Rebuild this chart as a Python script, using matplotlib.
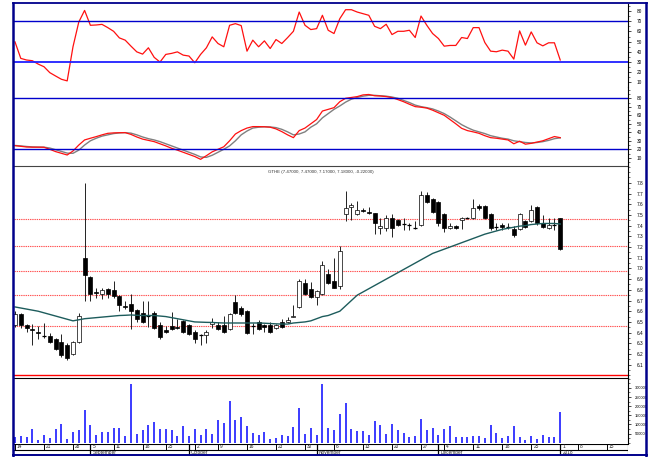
import matplotlib
matplotlib.use('Agg')
import matplotlib.pyplot as plt
from matplotlib.patches import Rectangle
from matplotlib.ticker import MultipleLocator, FixedLocator

plt.rcParams['font.family'] = ['Liberation Sans', 'DejaVu Sans']

# ---------------- data ----------------
opens = [6.47, 6.57, 6.47, 6.43, 6.41, 6.37, 6.37, 6.34, 6.31, 6.28,
         6.20, 6.31, 7.10, 6.92, 6.78, 6.76, 6.81, 6.80, 6.74, 6.65,
         6.67, 6.61, 6.58, 6.56, 6.58, 6.47, 6.42, 6.46, 6.45, 6.51,
         6.47, 6.41, 6.38, 6.38, 6.48, 6.47, 6.47, 6.43, 6.69, 6.63,
         6.60, 6.46, 6.50, 6.47, 6.47, 6.44, 6.50, 6.50, 6.55, 6.64,
         6.86, 6.81, 6.73, 6.76, 6.95, 6.88, 6.84, 7.51, 7.57, 7.51,
         7.55, 7.53, 7.515, 7.38, 7.38, 7.47, 7.45, 7.415, 7.41, 7.38,
         7.41, 7.69, 7.65, 7.62, 7.51, 7.38, 7.40, 7.45, 7.47, 7.47,
         7.58, 7.58, 7.51, 7.39, 7.41, 7.39, 7.37, 7.37, 7.44, 7.44,
         7.57, 7.42, 7.38, 7.41, 7.47]
highs = [6.60, 6.58, 6.48, 6.48, 6.46, 6.49, 6.40, 6.35, 6.39, 6.30,
         6.32, 6.58, 7.80, 6.93, 6.82, 6.82, 6.82, 6.88, 6.75, 6.70,
         6.76, 6.62, 6.70, 6.70, 6.60, 6.50, 6.46, 6.59, 6.53, 6.52,
         6.48, 6.42, 6.39, 6.42, 6.54, 6.50, 6.56, 6.58, 6.75, 6.65,
         6.61, 6.49, 6.52, 6.48, 6.50, 6.48, 6.53, 6.55, 6.66, 6.90,
         6.90, 6.87, 6.80, 7.07, 6.99, 7.10, 7.21, 7.72, 7.61, 7.63,
         7.56, 7.57, 7.52, 7.47, 7.50, 7.51, 7.46, 7.47, 7.42, 7.44,
         7.72, 7.71, 7.66, 7.63, 7.52, 7.42, 7.41, 7.48, 7.48, 7.65,
         7.60, 7.59, 7.52, 7.42, 7.42, 7.42, 7.40, 7.52, 7.45, 7.59,
         7.58, 7.50, 7.47, 7.47, 7.47]
lows = [6.45, 6.44, 6.41, 6.28, 6.34, 6.35, 6.30, 6.24, 6.17, 6.14,
        6.19, 6.30, 6.70, 6.70, 6.72, 6.71, 6.72, 6.72, 6.60, 6.62,
        6.43, 6.50, 6.49, 6.45, 6.43, 6.34, 6.40, 6.42, 6.43, 6.40,
        6.38, 6.30, 6.28, 6.30, 6.44, 6.42, 6.40, 6.42, 6.57, 6.56,
        6.39, 6.39, 6.42, 6.41, 6.40, 6.43, 6.44, 6.49, 6.55, 6.63,
        6.75, 6.72, 6.66, 6.75, 6.85, 6.82, 6.81, 7.44, 7.45, 7.50,
        7.53, 7.51, 7.32, 7.32, 7.35, 7.29, 7.40, 7.36, 7.36, 7.37,
        7.40, 7.61, 7.52, 7.40, 7.34, 7.37, 7.37, 7.37, 7.46, 7.46,
        7.55, 7.46, 7.36, 7.36, 7.36, 7.37, 7.29, 7.36, 7.38, 7.43,
        7.41, 7.38, 7.37, 7.36, 7.17]
closes = [6.57, 6.47, 6.44, 6.42, 6.40, 6.37, 6.31, 6.25, 6.19, 6.16,
          6.31, 6.56, 6.94, 6.76, 6.77, 6.80, 6.76, 6.74, 6.66, 6.64,
          6.60, 6.53, 6.50, 6.555, 6.44, 6.36, 6.41, 6.43, 6.44, 6.41,
          6.39, 6.34, 6.38, 6.41, 6.50, 6.43, 6.41, 6.57, 6.58, 6.57,
          6.40, 6.46, 6.43, 6.45, 6.41, 6.47, 6.45, 6.52, 6.56, 6.88,
          6.76, 6.73, 6.79, 7.03, 6.86, 6.82, 7.16, 7.56, 7.59, 7.55,
          7.54, 7.52, 7.42, 7.40, 7.47, 7.38, 7.41, 7.415, 7.41, 7.38,
          7.69, 7.62, 7.53, 7.42, 7.38, 7.40, 7.38, 7.47, 7.47, 7.56,
          7.56, 7.47, 7.38, 7.39, 7.39, 7.39, 7.31, 7.51, 7.39, 7.55,
          7.42, 7.39, 7.41, 7.41, 7.18]
ma = [6.64, 6.63, 6.62, 6.61, 6.60, 6.585, 6.57, 6.555, 6.54, 6.525,
      6.51, 6.52, 6.53, 6.535, 6.54, 6.545, 6.55, 6.555, 6.56, 6.562,
      6.565, 6.562, 6.56, 6.56, 6.56, 6.555, 6.55, 6.54, 6.53, 6.52,
      6.51, 6.50, 6.498, 6.496, 6.495, 6.492, 6.49, 6.49, 6.49, 6.49,
      6.49, 6.49, 6.49, 6.488, 6.485, 6.482, 6.48, 6.48, 6.49, 6.495,
      6.50, 6.51, 6.53, 6.55, 6.56, 6.58, 6.60, 6.65, 6.70, 6.75,
      6.78, 6.81, 6.84, 6.87, 6.90, 6.93, 6.96, 6.99, 7.02, 7.05,
      7.08, 7.11, 7.14, 7.16, 7.18, 7.20, 7.22, 7.24, 7.26, 7.28,
      7.30, 7.32, 7.335, 7.35, 7.365, 7.375, 7.385, 7.395, 7.40, 7.41,
      7.415, 7.42, 7.42, 7.42, 7.415]
rsi = [49.8, 33.6, 32, 31.3, 28, 25.4, 19.6, 16.3, 13.1, 11.5,
       45, 69.3, 80.7, 66.1, 66.4, 67, 63.8, 60.2, 53.7, 51.5,
       45.6, 40, 37.8, 44, 34.6, 30, 37.5, 38.5, 40, 36.8,
       35.9, 29.3, 37.5, 44, 54.7, 48.2, 45, 66.1, 67.7, 65.8,
       40.7, 51.5, 45, 50.8, 43.3, 52.1, 48.2, 54, 60.2, 79.1,
       66.1, 61.9, 62.8, 75.9, 61.2, 58, 72.6, 81.4, 81.4, 79.1,
       77.5, 75.9, 65.1, 62.8, 67.1, 57, 60.2, 60.2, 61.2, 54.1,
       75.2, 66.1, 58, 53.1, 45.6, 46.3, 46.3, 54.1, 53.1, 63.8,
       63.8, 49.2, 40.7, 40.1, 41.7, 40.7, 32.9, 60.6, 46.6, 59.6,
       48.9, 45.9, 48.9, 48.9, 32]
stoch_k = [24.3, 23.5, 22.7, 22.5, 22.5, 22.4, 20, 17.3, 15.3, 13.3,
           18, 25, 31, 33, 34.9, 37, 38.8, 39.3, 39.5, 39.6,
           37.5, 34.5, 32, 30.5, 29, 26.5, 24, 21.2, 19, 16.5,
           14, 11.5, 8.2, 12.5, 17, 20, 23, 30, 38, 42,
           45, 46.7, 46.7, 46.5, 46, 44, 40.8, 37, 33.7, 42,
           45, 50, 55, 65, 67, 69, 76, 80, 81, 82,
           84, 84.5, 83, 82.7, 82, 80.8, 78.5, 76, 73, 70.2,
           69.5, 68.5, 66, 63, 60, 55, 50, 44.7, 42, 40.5,
           38.8, 36, 33.7, 33, 32, 31, 26.5, 29.5, 26, 27,
           28.5, 30, 32.5, 35, 33.7]
stoch_d = [24.5, 24, 23.3, 22.8, 22.6, 22.5, 21.5, 19.5, 17.5, 15.5,
           15.3, 19, 25, 30, 33, 35.5, 37, 38.5, 39.3, 39.6,
           39, 37, 34.5, 32.5, 31, 29, 26.5, 24, 21.5, 19,
           16.5, 14, 11, 10.5, 13, 16.5, 20, 24, 30, 37,
           41.5, 45, 46, 46.5, 46.3, 45.5, 43.5, 40.5, 37, 38,
           40.5, 46, 50, 57, 62, 67, 71, 75.5, 79, 81,
           82.5, 83.5, 83.5, 83, 82.5, 81.5, 80, 77.5, 75, 72,
           70.2, 69, 67.5, 65, 62, 58, 53.5, 49, 45.5, 42.5,
           40.5, 38.5, 36, 34.5, 33, 32, 30, 29, 28, 27.5,
           28, 29, 30.5, 32.5, 33.5]
volume = [30900, 37800, 30900, 77800, 13500, 41300, 27400, 77800, 103800, 18700,
          58700, 67400, 178500, 95100, 44800, 58700, 58700, 81200, 83000, 37800,
          320800, 50000, 67400, 98600, 112500, 72600, 72600, 67400, 37800, 91700,
          36100, 76000, 41300, 77800, 46500, 122900, 109000, 230500, 126400, 140300,
          93400, 51700, 44800, 60400, 20500, 25700, 41300, 37800, 86400, 188900,
          50000, 83000, 44800, 320800, 81000, 67400, 159200, 216600, 72600, 65600,
          63900, 44800, 117700, 98600, 46500, 102000, 70800, 51700, 32600, 36100,
          129800, 67400, 83000, 41300, 76000, 93400, 30900, 30900, 30900, 39600,
          39600, 25700, 98600, 51700, 25700, 39600, 90000, 30900, 13500, 36100,
          20500, 41300, 32600, 30900, 167900]
fib_levels = [7.46, 7.21, 6.98, 6.75, 6.46]
base_level = 6.0
day_labels = ['14', '21', '28', '5', '11', '18', '25', '2', '9', '16', '23', '30',
              '6', '13', '20', '27', '4', '11', '18', '25', '1', '8', '15']
day_pos = [0, 5, 10, 13, 17, 22, 26, 31, 35, 40, 45, 50,
           55, 60, 65, 70, 74, 79, 84, 89, 94, 97, 102]
month_labels = ['September', 'October', 'November', 'December', '2018']
month_pos = [13, 30, 52, 73, 94]
title = 'GTHE (7.47000, 7.47000, 7.17000, 7.18000, -0.22000)'

# ---------------- layout ----------------
W, H = 649, 457
fig = plt.figure(figsize=(W / 100, H / 100), dpi=100)
fig.patch.set_facecolor('white')

X0, X1 = 14, 627.5
XLIM = (-0.17, 105.6)
FS = 3.4


def add_ax(y0, y1, fs=FS, pad=4):
    ax = fig.add_axes([X0 / W, 1 - y1 / H, (X1 - X0) / W, (y1 - y0) / H])
    ax.set_facecolor('none')
    ax.set_xlim(*XLIM)
    ax.set_xticks([])
    for s in ('left', 'top', 'bottom'):
        ax.spines[s].set_visible(False)
    ax.spines['right'].set_color('black')
    ax.spines['right'].set_linewidth(0.8)
    ax.yaxis.tick_right()
    ax.tick_params(axis='y', which='major', direction='out', length=2.5, width=0.5,
                   labelsize=fs, pad=pad, colors='black')
    ax.tick_params(axis='y', which='minor', direction='out', length=1.5, width=0.4)
    return ax


idx = list(range(len(closes)))

# RSI panel
ax_rsi = add_ax(4, 87)
ax_rsi.set_ylim(5.5, 87)
ax_rsi.plot(idx, rsi, color='#ff1010', lw=0.9)
ax_rsi.axhline(70, color='#0000cc', lw=1.0)
ax_rsi.axhline(30, color='#2020ff', lw=1.3)
ax_rsi.yaxis.set_major_locator(FixedLocator([10, 20, 30, 40, 50, 60, 70, 80]))
ax_rsi.yaxis.set_minor_locator(MultipleLocator(5))

# Stochastic panel
ax_sto = add_ax(87, 166)
ax_sto.set_ylim(0.35, 93.3)
ax_sto.plot(idx, stoch_d, color='#808080', lw=1.0)
ax_sto.plot(idx, stoch_k, color='#ff1010', lw=0.9)
ax_sto.axhline(80, color='#0000cc', lw=1.0)
ax_sto.axhline(20, color='#0000cc', lw=1.0)
ax_sto.yaxis.set_major_locator(FixedLocator([10, 20, 30, 40, 50, 60, 70, 80]))
ax_sto.yaxis.set_minor_locator(MultipleLocator(5))
ax_sto.spines['bottom'].set_visible(True)
ax_sto.spines['bottom'].set_color('#444444')
ax_sto.spines['bottom'].set_linewidth(0.8)

# Price panel
ax_px = add_ax(166, 378)
ax_px.set_ylim(5.976, 7.957)
for lv in fib_levels:
    ax_px.axhline(lv, color='#ff5050', lw=0.8, ls=(0, (1.2, 0.8)), zorder=1)
ax_px.axhline(base_level, color='#ff0000', lw=1.0, zorder=1)
bw = 0.7
for i in idx:
    o, h, l, c = opens[i], highs[i], lows[i], closes[i]
    ax_px.vlines(i, l, h, color='#222222', lw=0.7, zorder=2)
    lo, hi = min(o, c), max(o, c)
    if hi - lo < 0.006:
        ax_px.hlines(o, i - bw / 2, i + bw / 2, color='black', lw=0.9, zorder=3)
    else:
        fc = 'black' if c < o else 'white'
        ax_px.add_patch(Rectangle((i - bw / 2, lo), bw, hi - lo, facecolor=fc,
                                  edgecolor='black', lw=0.5, zorder=3))
ax_px.plot(idx, ma, color='#1d5c5c', lw=1.0, zorder=4)
ax_px.yaxis.set_major_locator(FixedLocator([6.1 + 0.1 * k for k in range(18)]))
ax_px.yaxis.set_major_formatter(plt.FuncFormatter(lambda v, p: f'{v:.1f}'))
ax_px.yaxis.set_minor_locator(MultipleLocator(0.05))
ax_px.text(0.5, 0.972, title, transform=ax_px.transAxes, ha='center', va='center',
           fontsize=3.2, color='#333333')
ax_px.spines['bottom'].set_visible(True)
ax_px.spines['bottom'].set_color('black')
ax_px.spines['bottom'].set_linewidth(0.8)

# Volume panel
ax_vol = add_ax(378, 443.5, fs=2.9, pad=2.5)
ax_vol.set_ylim(-4000, 354000)
ax_vol.vlines(idx, 0, volume, color='#1a1aff', lw=1.2)
ax_vol.yaxis.set_major_locator(FixedLocator([50000, 100000, 150000, 200000, 250000, 300000]))
ax_vol.yaxis.set_major_formatter(plt.FuncFormatter(lambda v, p: f'{int(v)}'))
ax_vol.yaxis.set_minor_locator(MultipleLocator(25000))

# Date axis
ax_d = fig.add_axes([X0 / W, 1 - 455 / H, (X1 - X0) / W, (455 - 443.5) / H])
ax_d.set_xlim(*XLIM)
ax_d.set_ylim(0, 2)
ax_d.axis('off')
ax_d.axhline(2, color='black', lw=0.8)
ax_d.axhline(0.85, color='black', lw=0.8)
for lab, p in zip(day_labels, day_pos):
    ax_d.plot([p, p], [0.85, 2], color='black', lw=0.7)
    ax_d.text(p + 0.35, 1.42, lab, fontsize=FS, ha='left', va='center', color='#222222')
for lab, p in zip(month_labels, month_pos):
    ax_d.plot([p, p], [0, 2], color='black', lw=0.9)
    ax_d.text(p + 0.35, 0.35, lab, fontsize=FS, ha='left', va='center', color='#222222')
ax_d.plot([XLIM[1], XLIM[1]], [0, 2], color='black', lw=0.8)

# Outer frame
bg = fig.add_axes([0, 0, 1, 1], zorder=10)
bg.set_xlim(0, W)
bg.set_ylim(H, 0)
bg.axis('off')
bg.patch.set_alpha(0)
navy = '#00008b'
bg.plot([13, 13], [3, 455.5], color=navy, lw=1.8)
bg.plot([13, 646.5], [3.3, 3.3], color=navy, lw=1.3)
bg.plot([646, 646], [3, 455.5], color=navy, lw=1.8)
bg.plot([13, 646.5], [455.3, 455.3], color=navy, lw=1.4)

fig.savefig('out.png', dpi=100)
